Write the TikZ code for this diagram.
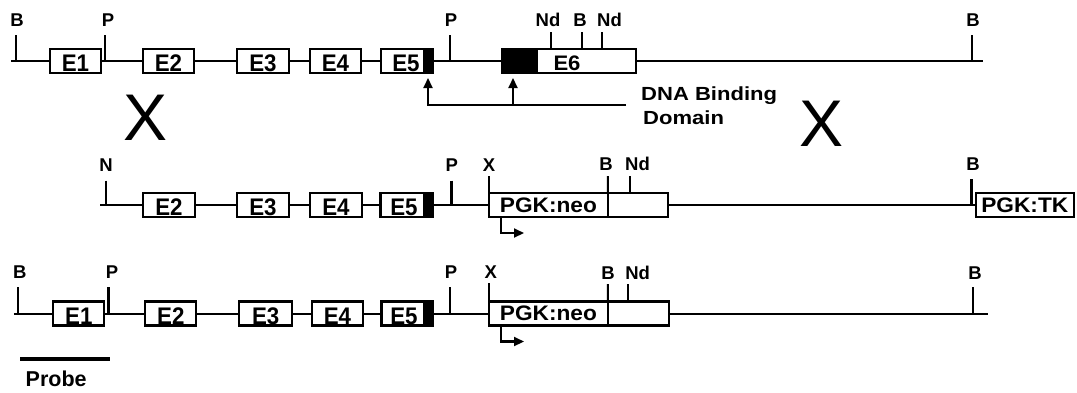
\documentclass[tikz,border=0pt]{standalone}
\usepackage{fontspec}
\setmainfont{Liberation Sans}
\usepackage{graphicx}
\usetikzlibrary{arrows.meta}
\tikzset{
 ln/.style={line width=2.1pt},
 bx/.style={draw, line width=2.1pt, fill=white, rectangle, inner sep=0pt, outer sep=0pt, minimum height=24pt},
 site/.style={font=\fontsize{18.5}{20}\selectfont\bfseries, anchor=base, inner sep=0pt},
 elab/.style={font=\fontsize{24}{26}\selectfont\bfseries, anchor=base, inner sep=0pt},
 plab/.style={font=\fontsize{21}{23}\selectfont\bfseries, anchor=base, inner sep=0pt},
 dlab/.style={font=\fontsize{19}{23}\selectfont\bfseries, anchor=base west, inner sep=0pt},
 arr/.style={line width=2.1pt, -{Triangle[length=10pt,width=9pt]}},
 bigx/.style={font=\fontsize{66}{70}\selectfont, anchor=base, inner sep=0pt},
}
\newcommand{\exl}[1]{\scalebox{0.93}[1]{#1}}
\newcommand{\pgl}[1]{\scalebox{1.08}[1]{#1}}
\newcommand{\dnl}[1]{\scalebox{1.16}[1]{#1}}
\begin{document}
\begin{tikzpicture}[x=1pt,y=-1pt]
\useasboundingbox (0,0) rectangle (1077,392);

% ---------------- top row (wild type) ----------------
\draw[ln] (11,61) -- (983,61);
\foreach \x in {16,105,450,972} \draw[ln] (\x,35) -- (\x,61);
\node[bx, minimum width=51pt] (t1) at (75.5,61) {};
\node[bx, minimum width=51pt] (t2) at (168.5,61) {};
\node[bx, minimum width=52pt] (t3) at (263,61) {};
\node[bx, minimum width=51pt] (t4) at (335.5,61) {};
\node[bx, minimum width=52pt] (t5) at (407,61) {};
\fill ([xshift=-10pt]t5.north east) rectangle (t5.south east);
\node[bx, minimum width=134.3pt] (t6) at (568.85,61) {};
\fill (t6.north west) rectangle ([xshift=36.3pt]t6.south west);
\draw[ln] (t6.north west) rectangle (t6.south east);
\foreach \x in {551,582,602} \draw[ln] (\x,32) -- (\x,49);
\node[elab] (t1l) at (75.5,71.5) {\exl{E1}};
\node[elab] (t2l) at (168.5,71.5) {\exl{E2}};
\node[elab] (t3l) at (263,71.5) {\exl{E3}};
\node[elab] (t4l) at (335.5,71.5) {\exl{E4}};
\node[elab] (t5l) at (406,71.5) {\exl{E5}};
\node[plab] (t6l) at (567,70) {\scalebox{1.05}[1]{E6}};
\node[site] (tb1) at (17,26) {B};
\node[site] (tp1) at (108,26) {P};
\node[site] (tp2) at (451,26) {P};
\node[site] (tn1) at (548,26) {Nd};
\node[site] (tb2) at (580,26) {B};
\node[site] (tn2) at (609.5,26) {Nd};
\node[site] (tb3) at (973,26) {B};

% DNA binding domain arrows
\coordinate (dbe) at (626,105);
\coordinate (a1) at (428,78);
\coordinate (a2) at (513,78);
\draw[arr] (dbe) -| (a1);
\draw[arr] (a2 |- dbe) -- (a2);
\node[dlab] (dna1) at (641,100.7) {\dnl{DNA Binding}};
\node[dlab] (dna2) at (643,124) {\dnl{Domain}};

% crossover marks
\node[bigx] (x1) at (145.5,140) {X};
\node[bigx] (x2) at (821.5,146.5) {X};

% ---------------- middle row (targeting vector) ----------------
\draw[ln] (100,205) -- (975.6,205);
\foreach \x in {105.7,451.5} \draw[ln] (\x,180.5) -- (\x,205);
\draw[ln] (971.5,179.4) -- (971.5,205);
\node[bx, minimum width=52pt] (m2) at (169,205) {};
\node[bx, minimum width=52pt] (m3) at (263,205) {};
\node[bx, minimum width=52pt] (m4) at (336,205) {};
\node[bx, minimum width=52.5pt] (m5) at (406.75,205) {};
\fill ([xshift=-10pt]m5.north east) rectangle (m5.south east);
\node[bx, minimum width=118.8pt] (mn) at (548.4,205) {};
\node[bx, minimum width=60.2pt] (mr) at (637.9,205) {};
\node[bx, minimum width=98.4pt] (mt) at (1024.8,205) {};
\draw[ln] (489,176) -- (mn.north west);
\draw[ln] (mn.north east) -- (607.8,176);
\draw[ln] (629.7,176) -- (629.7,193);
\node[elab] (m2l) at (169,215.5) {\exl{E2}};
\node[elab] (m3l) at (263,215.5) {\exl{E3}};
\node[elab] (m4l) at (336,215.5) {\exl{E4}};
\node[elab] (m5l) at (404,215.5) {\exl{E5}};
\node[plab] (mnl) at (548.4,212) {\pgl{PGK:neo}};
\node[plab] (mtl) at (1024.8,212.5) {\pgl{PGK:TK}};
\coordinate (mp0) at (501,217);
\coordinate (mp1) at (524,233);
\draw[arr] (mp0) |- (mp1);
\node[site] (mnn) at (106,171.5) {N};
\node[site] (mpp) at (451.7,171.5) {P};
\node[site] (mxx) at (489,171) {X};
\node[site] (mbb) at (606,170.8) {B};
\node[site] (mnd) at (637.5,170.8) {Nd};
\node[site] (mb2) at (973,170.8) {B};

% ---------------- bottom row (targeted allele) ----------------
\draw[ln] (13.8,314) -- (988,314);
\foreach \x in {17.9,108.5,450,973} \draw[ln] (\x,287) -- (\x,314);
\node[bx, minimum width=50.9pt] (b1) at (78.85,313.5) {};
\node[bx, minimum width=51pt] (b2) at (170.8,313.5) {};
\node[bx, minimum width=52.7pt] (b3) at (265.65,313.5) {};
\node[bx, minimum width=51.7pt] (b4) at (337.45,313.5) {};
\node[bx, minimum width=51.5pt] (b5) at (407.25,313.5) {};
\fill ([xshift=-10pt]b5.north east) rectangle (b5.south east);
\node[bx, minimum width=118.8pt] (bn) at (548.4,313.5) {};
\node[bx, minimum width=61.2pt] (br) at (638.4,313.5) {};
\draw[ln] (489,283.3) -- (bn.north west);
\draw[ln] (bn.north east) -- (607.8,284);
\draw[ln] (628.4,284) -- (628.4,301.5);
\node[elab] (b1l) at (78.85,324) {\exl{E1}};
\node[elab] (b2l) at (170.8,324) {\exl{E2}};
\node[elab] (b3l) at (265.65,324) {\exl{E3}};
\node[elab] (b4l) at (337.45,324) {\exl{E4}};
\node[elab] (b5l) at (404,324) {\exl{E5}};
\node[plab] (bnl) at (548.4,320.5) {\pgl{PGK:neo}};
\coordinate (bp0) at (501,325.5);
\coordinate (bp1) at (524,341.5);
\draw[arr] (bp0) |- (bp1);
\node[site] (bbb) at (19.8,278.5) {B};
\node[site] (bpp) at (112,278.5) {P};
\node[site] (bp2) at (451,278.5) {P};
\node[site] (bxx) at (490.8,278.5) {X};
\node[site] (bb2) at (608,279) {B};
\node[site] (bnd) at (637.6,279) {Nd};
\node[site] (bb3) at (975,279) {B};

% probe
\coordinate (pr0) at (20,359);
\coordinate (pr1) at (109.5,359);
\draw[line width=4.5pt] (pr0) -- (pr1);
\node[font=\fontsize{21.5}{23}\selectfont\bfseries, anchor=base west, inner sep=0pt] (probe) at (25.5,386) {Probe};
\end{tikzpicture}
\end{document}
